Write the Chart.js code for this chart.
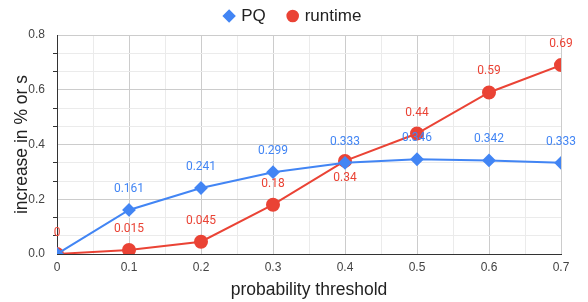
<!DOCTYPE html>
<html>
<head>
<meta charset="utf-8">
<script src="https://cdn.jsdelivr.net/npm/chart.js@4"></script>
<style>
  html, body { margin: 0; padding: 0; background: #fff; }
  #wrap { width: 588px; height: 302px; position: relative; }
</style>
</head>
<body>
<div id="wrap"><canvas id="chart"></canvas></div>
<script>
// datos
const thresholds = [0, 0.1, 0.2, 0.3, 0.4, 0.5, 0.6, 0.7];
const pqValues = [0, 0.161, 0.241, 0.299, 0.333, 0.346, 0.342, 0.333];
const runtimeValues = [0, 0.015, 0.045, 0.18, 0.34, 0.44, 0.59, 0.69];
const runtimeLabels = ['0', '0.015', '0.045', '0.18', '0.34', '0.44', '0.59', '0.69'];
const pqLabels = ['', '0.161', '0.241', '0.299', '0.333', '0.346', '0.342', '0.333'];
const xTickValues = [0, 0.1, 0.2, 0.3, 0.4, 0.5, 0.6, 0.7];
const xTickLabels = ['0', '0.1', '0.2', '0.3', '0.4', '0.5', '0.6', '0.7'];
const yTickValues = [0, 0.2, 0.4, 0.6, 0.8];
const yTickLabels = ['0.0', '0.2', '0.4', '0.6', '0.8'];

const BLUE = '#4285f4';
const RED = '#ea4335';
const FONT = 'Arial, "Liberation Sans", sans-serif';

// ticks mayores + menores (x: mitades, y: tercios)
function withMinors(values, parts) {
    const out = [];
    for (let i = 0; i < values.length; i++) {
        out.push({ value: values[i], major: true });
        if (i < values.length - 1) {
            const step = (values[i + 1] - values[i]) / parts;
            for (let k = 1; k < parts; k++) out.push({ value: values[i] + step * k, major: false });
        }
    }
    return out;
}

// etiquetas de valores sobre los puntos
const valueLabels = {
    id: 'valueLabels',
    afterDatasetsDraw(chart) {
        const ctx = chart.ctx;
        ctx.save();
        ctx.font = '12px Roboto, Arial, sans-serif';
        ctx.textAlign = 'center';
        ctx.textBaseline = 'middle';
        chart.data.datasets.forEach((ds, di) => {
            const meta = chart.getDatasetMeta(di);
            ctx.fillStyle = ds.borderColor;
            meta.data.forEach((pt, i) => {
                const txt = ds.valueText[i];
                if (!txt) return;
                const below = ds.below && ds.below.includes(i);
                ctx.fillText(txt, pt.x, below ? pt.y + 17 : pt.y - 21);
            });
        });
        ctx.restore();
    }
};

// leyenda: mas separacion entre items sin crecer en altura, y un poco a la derecha
const legendTweak = {
    id: 'legendTweak',
    afterInit(chart) {
        const lg = chart.legend;
        const fit = lg.fit;
        lg.fit = function () { fit.call(this); this.height = 35; };
    },
    afterLayout(chart) {
        const lg = chart.legend;
        lg.top = -16;
        lg.left += 13;
        lg.right += 13;
    }
};

const ctx = document.getElementById('chart').getContext('2d');
new Chart(ctx, {
    type: 'line',
    data: {
        datasets: [{
            label: 'PQ',
            data: thresholds.map((x, i) => ({ x: x, y: pqValues[i] })),
            borderColor: BLUE,
            backgroundColor: BLUE,
            borderWidth: 2,
            pointStyle: 'rectRot',
            pointRadius: 5.5,
            pointHoverRadius: 5.5,
            valueText: pqLabels,
            below: []
        }, {
            label: 'runtime',
            data: thresholds.map((x, i) => ({ x: x, y: runtimeValues[i] })),
            borderColor: RED,
            backgroundColor: RED,
            borderWidth: 2,
            pointStyle: 'circle',
            pointRadius: 6,
            pointHoverRadius: 6,
            valueText: runtimeLabels,
            below: [4]
        }]
    },
    options: {
        responsive: true,
        maintainAspectRatio: false,
        animation: false,
        layout: { padding: { left: 0, right: 27, top: 0, bottom: 0 } },
        scales: {
            x: {
                type: 'linear',
                min: 0,
                max: 0.7,
                afterBuildTicks: (scale) => { scale.ticks = withMinors(xTickValues, 2); },
                afterFit: (scale) => { scale.height = 48; },
                ticks: {
                    autoSkip: false,
                    maxRotation: 0,
                    color: '#444',
                    font: { family: FONT, size: 12 },
                    padding: 6,
                    callback: (v, i, ticks) => {
                        const k = xTickValues.findIndex(t => Math.abs(t - v) < 1e-9);
                        return k >= 0 ? xTickLabels[k] : '';
                    }
                },
                grid: {
                    drawTicks: false,
                    color: (c) => (c.tick && c.tick.major ? '#cccccc' : '#ebebeb')
                },
                border: { color: '#333', width: 1 },
                title: {
                    display: true,
                    text: 'probability threshold',
                    color: '#222',
                    font: { family: FONT, size: 17.5 },
                    padding: { top: 2, bottom: 1.5 }
                }
            },
            y: {
                type: 'linear',
                min: 0,
                max: 0.8,
                afterBuildTicks: (scale) => { scale.ticks = withMinors(yTickValues, 3); },
                afterFit: (scale) => { scale.width = 57; },
                ticks: {
                    autoSkip: false,
                    color: '#444',
                    font: { family: FONT, size: 12 },
                    padding: 8,
                    callback: (v, i, ticks) => {
                        const k = yTickValues.findIndex(t => Math.abs(t - v) < 1e-9);
                        return k >= 0 ? yTickLabels[k] : '';
                    }
                },
                grid: {
                    tickLength: 4,
                    color: (c) => (c.tick && c.tick.major ? '#cccccc' : '#ebebeb'),
                    tickColor: (c) => (c.tick && c.tick.major ? 'rgba(0,0,0,0)' : '#333')
                },
                border: { color: '#333', width: 1 },
                title: {
                    display: true,
                    text: 'increase in % or s',
                    color: '#222',
                    font: { family: FONT, size: 17.5 },
                    padding: { top: 11.5, bottom: 0 }
                }
            }
        },
        plugins: {
            legend: {
                display: true,
                position: 'top',
                labels: {
                    usePointStyle: true,
                    boxHeight: 7.5,
                    boxWidth: 7,
                    color: '#222',
                    font: { family: FONT, size: 17 },
                    padding: 23.5
                }
            },
            tooltip: { enabled: false }
        }
    },
    plugins: [valueLabels, legendTweak]
});
</script>
</body>
</html>
